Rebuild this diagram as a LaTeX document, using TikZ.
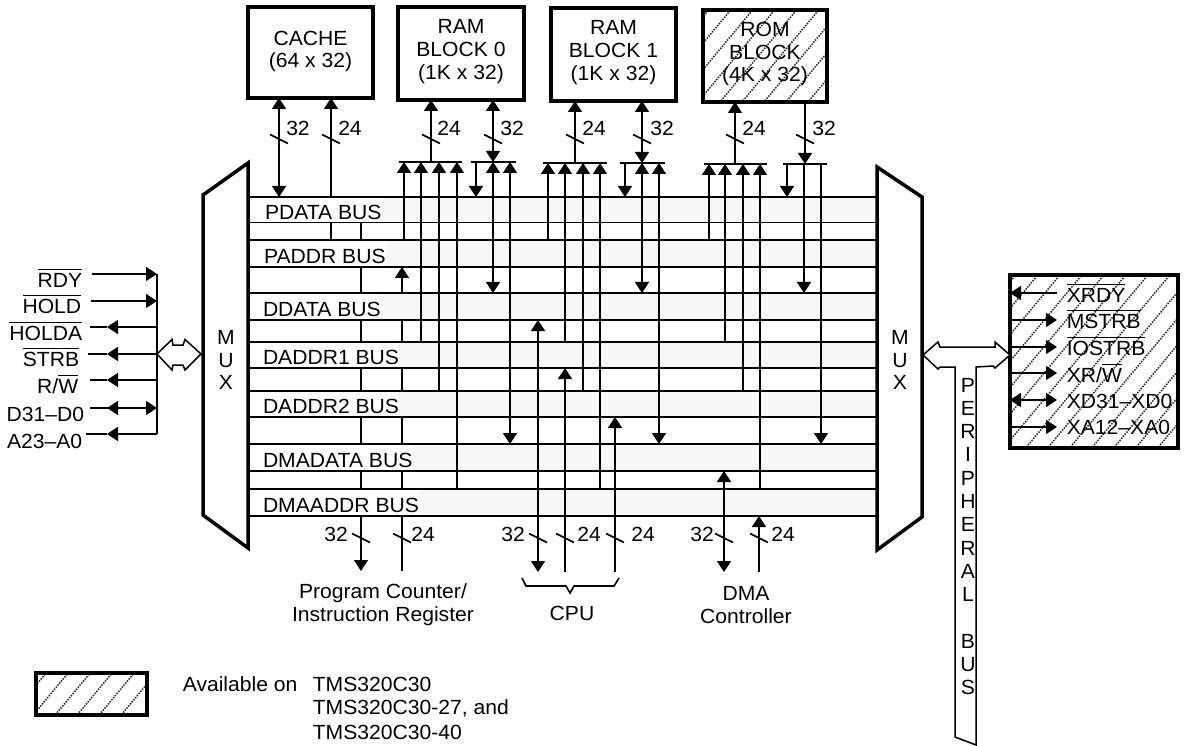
\documentclass[tikz,border=0pt]{standalone}
\usepackage{fontspec}
\setmainfont[FakeStretch=1.03]{Liberation Sans}
\usetikzlibrary{arrows.meta}

\newcommand{\barsig}[1]{$\overline{\mbox{\rule{0pt}{16.5pt}#1}}$}
\newcommand{\hatchin}[1]{%
  \begin{scope}
  \clip (#1.south west) rectangle (#1.north east);
  \foreach \k in {-700,-678,...,1184}
    \draw[hatchline] (\k,750) -- ++(625,-750);
  \end{scope}}

\tikzset{
  memblock/.style={draw, line width=3.2pt, align=center, outer sep=0pt, inner sep=0pt},
  hatchline/.style={black!85, line width=1.5pt, dash pattern=on 1.5pt off 1.2pt},
  busstrip/.style={fill=white, minimum width=629pt, outer sep=0pt, inner sep=0pt},
  buslabel/.style={anchor=west, inner sep=0pt, outer sep=0pt},
  siglabel/.style={anchor=east, inner sep=0pt},
  xlabel/.style={anchor=west, inner sep=0pt},
  muxshape/.style={draw, line width=3.5pt, fill=white, line join=miter},
  arrowshape/.style={draw, line width=1.5pt, fill=white}
}

\begin{document}
\begin{tikzpicture}[x=1pt, y=-1pt, font=\fontsize{20.5}{22.7}\selectfont, line width=1.6pt,
  >={Triangle[length=11pt,width=14pt]}]
\useasboundingbox (0,0) rectangle (1184,746);

% memories
\node[memblock, minimum width=125pt, minimum height=91pt] (cache) at (310.5,52.5) {};
\node[memblock, minimum width=126pt, minimum height=93pt] (ram0) at (461,53.5) {};
\node[memblock, minimum width=125pt, minimum height=93pt] (ram1) at (613.5,54.5) {};
\node[memblock, minimum width=124pt, minimum height=92pt] (rom) at (765,56) {};
\hatchin{rom}
\draw[line width=3.2pt] (rom.south west) rectangle (rom.north east);
\node[align=center, yshift=1pt] (cachetext) at (cache.center) {CACHE\\(64 x 32)};
\node[align=center, yshift=2pt] (ram0text) at (ram0.center) {RAM\\BLOCK 0\\(1K x 32)};
\node[align=center, yshift=2pt] (ram1text) at (ram1.center) {RAM\\BLOCK 1\\(1K x 32)};
\node[align=center, yshift=2pt] (romtext) at (rom.center) {ROM\\BLOCK\\(4K x 32)};

% lines the bus strips cover
\coordinate (pcd) at (361,571);
\coordinate (pca) at (402,571);
\draw (331,0 |- cache.south) -- (331,240);
\draw[->] (361,222) -- (pcd);
\draw[->] (pca) -- (402,267);

% buses
\foreach \n/\t/\top/\bot/\lx in {pdata/PDATA BUS/197/222.5/265, paddr/PADDR BUS/240/267/264,
    ddata/DDATA BUS/293/320/263, daddra/DADDR1 BUS/342/368/263, daddrb/DADDR2 BUS/391/417/263,
    dmadata/DMADATA BUS/444/471/263, dmaaddr/DMAADDR BUS/489/516/263} {
  \node[busstrip, minimum height=(\bot-\top)*1pt] (\n) at (562.5,{(\top+\bot)/2}) {};
  \node[buslabel] (l\n) at (\lx,{(\top+\bot)/2+2.5}) {\t};
  \fill[black!3] (l\n.east |- \n.north) rectangle (\n.south east);
  \draw (\n.north west) -- (\n.north east);
  \draw (\n.south west) -- (\n.south east);
}

% cache
\draw[->] (331,240 |- pdata.north) -- (331,0 |- cache.south);
\draw[<->] (279,0 |- cache.south) -- (279,0 |- pdata.north);

% splitter bars
\coordinate (bar0a) at (399,162);
\coordinate (bar0b) at (471,162);
\coordinate (bar1a) at (543,163);
\coordinate (bar1b) at (620,163);
\coordinate (bar2a) at (704,164);
\coordinate (bar2b) at (783,164);
\draw (bar0a) -- (462,0 |- bar0a);
\draw (bar0b) -- (516,0 |- bar0b);
\draw (bar1a) -- (607,0 |- bar1a);
\draw (bar1b) -- (665,0 |- bar1b);
\draw (bar2a) -- (767,0 |- bar2a);
\draw (bar2b) -- (827,0 |- bar2b);

% block 0
\draw[->] (431,0 |- bar0a) -- (431,0 |- ram0.south);
\draw[<->] (493,0 |- ram0.south) -- (493,0 |- bar0b);
\foreach \x/\b in {404/paddr, 421/daddra, 439/daddrb, 457/dmaaddr}
  \draw[->] (\x,0 |- \b.north) -- (\x,0 |- bar0a);
\draw[->] (476,0 |- bar0b) -- (476,0 |- pdata.north);
\draw[<->] (493,0 |- bar0b) -- (493,0 |- ddata.north);
\draw[<->] (510,0 |- bar0b) -- (510,0 |- dmadata.north);

% block 1
\draw[->] (575,0 |- bar1a) -- (575,0 |- ram1.south);
\draw[<->] (642,0 |- ram1.south) -- (642,0 |- bar1b);
\foreach \x/\b in {548/paddr, 565/daddra, 583/daddrb, 600/dmaaddr}
  \draw[->] (\x,0 |- \b.north) -- (\x,0 |- bar1a);
\draw[->] (625,0 |- bar1b) -- (625,0 |- pdata.north);
\draw[<->] (642,0 |- bar1b) -- (642,0 |- ddata.north);
\draw[<->] (659,0 |- bar1b) -- (659,0 |- dmadata.north);

% rom
\draw[->] (735,0 |- bar2a) -- (735,0 |- rom.south);
\draw[->] (805,0 |- rom.south) -- (805,0 |- bar2b);
\foreach \x/\b in {709/paddr, 725/daddra, 743/daddrb, 760/dmaaddr}
  \draw[->] (\x,0 |- \b.north) -- (\x,0 |- bar2a);
\draw[->] (787,0 |- bar2b) -- (787,0 |- pdata.north);
\draw[->] (804,0 |- bar2b) -- (804,0 |- ddata.north);
\draw[->] (821,0 |- bar2b) -- (821,0 |- dmadata.north);

% cpu and dma
\coordinate (cpud) at (538,572);
\coordinate (cpua) at (565,572);
\coordinate (cpub) at (615,572);
\coordinate (dmad) at (724,572);
\coordinate (dmaa) at (759,572);
\draw[<->] (cpud) -- (538,0 |- ddata.south);
\draw[->] (cpua) -- (565,0 |- daddra.south);
\draw[->] (cpub) -- (615,0 |- daddrb.south);
\draw[<->] (dmad) -- (724,0 |- dmadata.south);
\draw[->] (dmaa) -- (759,0 |- dmaaddr.south);

% width ticks
\foreach \x/\t/\lx in {279/32/298, 331/24/350, 431/24/449, 493/32/512, 575/24/594, 642/32/662, 735/24/754, 805/32/824} {
  \draw (\x-9,134.5) -- ++(18,9);
  \node (wt\x) at (\lx,128) {\t};
}
\foreach \x/\t/\lx in {361/32/336, 402/24/423, 538/32/513, 565/24/589, 615/24/643, 724/32/702, 759/24/783} {
  \draw (\x-9,533.5) -- ++(18,9);
  \node (wb\x) at (\lx,534) {\t};
}

% muxes
\draw[muxshape] (248,163) -- (203,195) -- (203,515) -- (248,548) -- cycle;
\draw[muxshape] (877,167) -- (922,197) -- (922,517) -- (877,550) -- cycle;
\node[align=center] (lmux) at (226,360) {M\\U\\X};
\node[align=center] (rmux) at (900,360) {M\\U\\X};

% left signals
\coordinate (spine) at (157,274);
\draw (spine) -- (157,434);
\foreach \x/\y in {92/274, 91/301} {
  \coordinate (sig\y) at (\x,\y);
  \draw[->] (sig\y) -- (spine |- sig\y);
}
\foreach \x/\y in {90/327, 88/354, 90/380, 90/408, 86/434} {
  \coordinate (sig\y) at (\x,\y);
  \draw[->] (spine |- sig\y) -- (107,0 |- sig\y);
  \draw (107,0 |- sig\y) -- (sig\y);
}
\draw[->] (107,0 |- sig408) -- (spine |- sig408);
\node[siglabel] (rdy) at (83,278) {\barsig{RDY}};
\node[siglabel] (hold) at (82,304) {\barsig{HOLD}};
\node[siglabel] (holda) at (83,331) {\barsig{HOLDA}};
\node[siglabel] (strb) at (80,357) {\barsig{STRB}};
\node[siglabel] (rw) at (79,384) {R/\barsig{W}};
\node[siglabel] (dbus) at (85,414) {D31--D0};
\node[siglabel] (abus) at (83,441) {A23--A0};
\draw[arrowshape] (157,354) -- (172,339.5) -- (173,345) -- (183,345) -- (185,339.5) -- (201,354)
  -- (185,370) -- (183,365) -- (173,365) -- (172,370) -- cycle;

% right side
\node[minimum width=168pt, minimum height=173pt, outer sep=0pt, inner sep=0pt] (xbus) at (1094,361.5) {};
\hatchin{xbus}
\draw[line width=3.2pt] (xbus.south west) rectangle (xbus.north east);
\foreach \y/\k in {293/<-, 320/->, 347/->, 373/->, 400/<->, 427/->} {
  \coordinate (xr\y) at (1057,\y);
  \draw[\k] (xbus.west |- xr\y) -- (xr\y);
}
\node[xlabel] (xrdy) at (1066,293) {\barsig{XRDY}};
\node[xlabel] (mstrb) at (1066,319) {\barsig{MSTRB}};
\node[xlabel] (iostrb) at (1066,346) {\barsig{IOSTRB}};
\node[xlabel] (xrw) at (1066,373) {XR/\barsig{W}};
\node[xlabel] (xdbus) at (1066,401) {XD31--XD0};
\node[xlabel] (xabus) at (1066,427) {XA12--XA0};
\draw[arrowshape] (923,355) -- (938,342) -- (940,347) -- (995,347) -- (995,342) -- (1010,355)
  -- (995,368) -- (993,366) -- (976,367) -- (976,745) -- (955,737) -- (955,367) -- (940,367)
  -- (938,369) -- cycle;
\node[align=center, font=\fontsize{20.5}{23.3}\selectfont] (perbus) at (968,536.5)
  {P\\E\\R\\I\\P\\H\\E\\R\\A\\L\\\mbox{}\\B\\U\\S};

% targets below the buses
\draw (522,578) -- (526,586) -- (566,586) -- (570,593) -- (574,586) -- (614,586) -- (619,578);
\node[align=center] (pclabel) at (383,605) {Program Counter/\\Instruction Register};
\node (cpulabel) at (572,613) {CPU};
\node[align=center] (dmalabel) at (746,605) {DMA\\Controller};

% legend
\node[minimum width=111pt, minimum height=42pt, outer sep=0pt, inner sep=0pt] (legend) at (91.5,694) {};
\hatchin{legend}
\draw[line width=3.2pt] (legend.south west) rectangle (legend.north east);
\node[xlabel] (avail) at (182,684) {Available on};
\node[xlabel] (tmsa) at (312,684) {TMS320C30};
\node[xlabel] (tmsb) at (312,708) {TMS320C30-27, and};
\node[xlabel] (tmsc) at (312,732) {TMS320C30-40};
\end{tikzpicture}
\end{document}
